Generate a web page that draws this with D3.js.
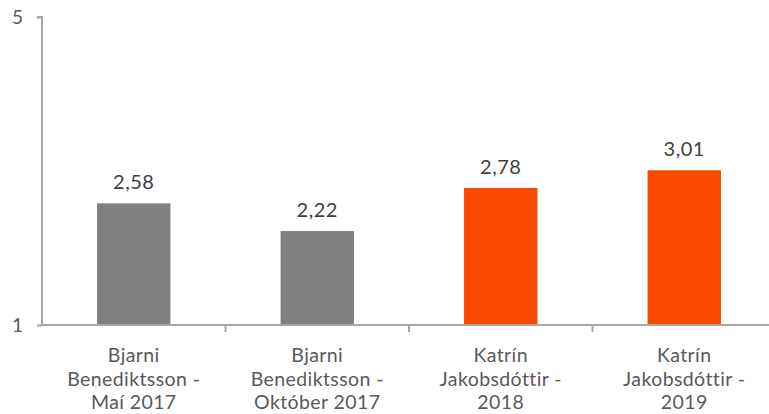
<!DOCTYPE html>
<html>
<head>
<meta charset="utf-8">
<script src="https://cdn.jsdelivr.net/npm/d3@7"></script>
<style>
  body { margin: 0; background: #fff; }
  svg { display: block; font-family: Lato, "Open Sans", sans-serif; }
</style>
</head>
<body>
<svg id="chart" width="769" height="414"></svg>
<script>
// chart data
var categories = [
  ["Bjarni", "Benediktsson -", "Maí 2017"],
  ["Bjarni", "Benediktsson -", "Október 2017"],
  ["Katrín", "Jakobsdóttir -", "2018"],
  ["Katrín", "Jakobsdóttir -", "2019"]
];
var values = [2.58, 2.22, 2.78, 3.01];
var valueLabels = ["2,58", "2,22", "2,78", "3,01"];
var barColors = ["#808080", "#808080", "#FA4A00", "#FA4A00"];
var yTicks = [1, 5];

var svg = d3.select("#chart");
var margin = {top: 17, left: 42, right: -7, bottom: 89};
var width = 769 - margin.left - margin.right;
var height = 414 - margin.top - margin.bottom;

var g = svg.append("g")
  .attr("transform", "translate(" + margin.left + "," + margin.top + ")");

var x = d3.scaleBand()
  .domain(d3.range(categories.length))
  .range([0, width])
  .paddingInner(0.6)
  .paddingOuter(0.3);

var xb = d3.scaleBand()
  .domain(d3.range(categories.length))
  .range([0, width]);

var y = d3.scaleLinear()
  .domain([1, 5])
  .range([height, 0]);

var axisColor = "#A6A6A6";

// bars
g.selectAll("rect.bar")
  .data(values)
  .enter().append("rect")
  .attr("class", "bar")
  .attr("x", function(d, i) { return x(i); })
  .attr("width", x.bandwidth())
  .attr("y", function(d) { return y(d); })
  .attr("height", function(d) { return y(1) - y(d); })
  .attr("fill", function(d, i) { return barColors[i]; });

// value labels
g.selectAll("text.val")
  .data(values)
  .enter().append("text")
  .attr("class", "val")
  .attr("x", function(d, i) { return x(i) + x.bandwidth() / 2; })
  .attr("y", function(d) { return y(d) - 14; })
  .attr("text-anchor", "middle")
  .style("font-size", "20px")
  .style("letter-spacing", "0.5px")
  .attr("fill", "#404040")
  .text(function(d, i) { return valueLabels[i]; });

// y axis
var yAxis = g.append("g")
  .call(d3.axisLeft(y).tickValues(yTicks).tickSize(5).tickPadding(14).tickFormat(d3.format("d")));
yAxis.select(".domain").attr("stroke", axisColor).attr("stroke-width", 2)
  .attr("d", "M-5," + y(5) + "H0V" + y(1));
yAxis.selectAll(".tick line").attr("stroke", axisColor).attr("stroke-width", 2);
yAxis.selectAll(".tick text")
  .style("font-size", "19px")
  .style("font-family", "Lato, 'Open Sans', sans-serif")
  .attr("fill", "#595959");

// x axis
var xAxis = g.append("g")
  .attr("transform", "translate(0," + height + ")");
xAxis.append("line")
  .attr("x1", 0).attr("x2", width)
  .attr("stroke", axisColor).attr("stroke-width", 2);
xAxis.selectAll("line.sep")
  .data(d3.range(1, categories.length))
  .enter().append("line")
  .attr("class", "sep")
  .attr("x1", function(d) { return xb(d); })
  .attr("x2", function(d) { return xb(d); })
  .attr("y1", 0).attr("y2", 7)
  .attr("stroke", axisColor).attr("stroke-width", 2);

var labels = xAxis.selectAll("text.cat")
  .data(categories)
  .enter().append("text")
  .attr("class", "cat")
  .attr("text-anchor", "middle")
  .attr("fill", "#595959")
  .style("font-size", "19.5px")
  .style("letter-spacing", "0.4px");
labels.selectAll("tspan")
  .data(function(d, i) { return d.map(function(s) { return {s: s, i: i}; }); })
  .enter().append("tspan")
  .attr("x", function(d) { return xb(d.i) + xb.bandwidth() / 2; })
  .attr("y", function(d, j) { return 37 + j * 23.5; })
  .text(function(d) { return d.s; });
</script>
</body>
</html>
